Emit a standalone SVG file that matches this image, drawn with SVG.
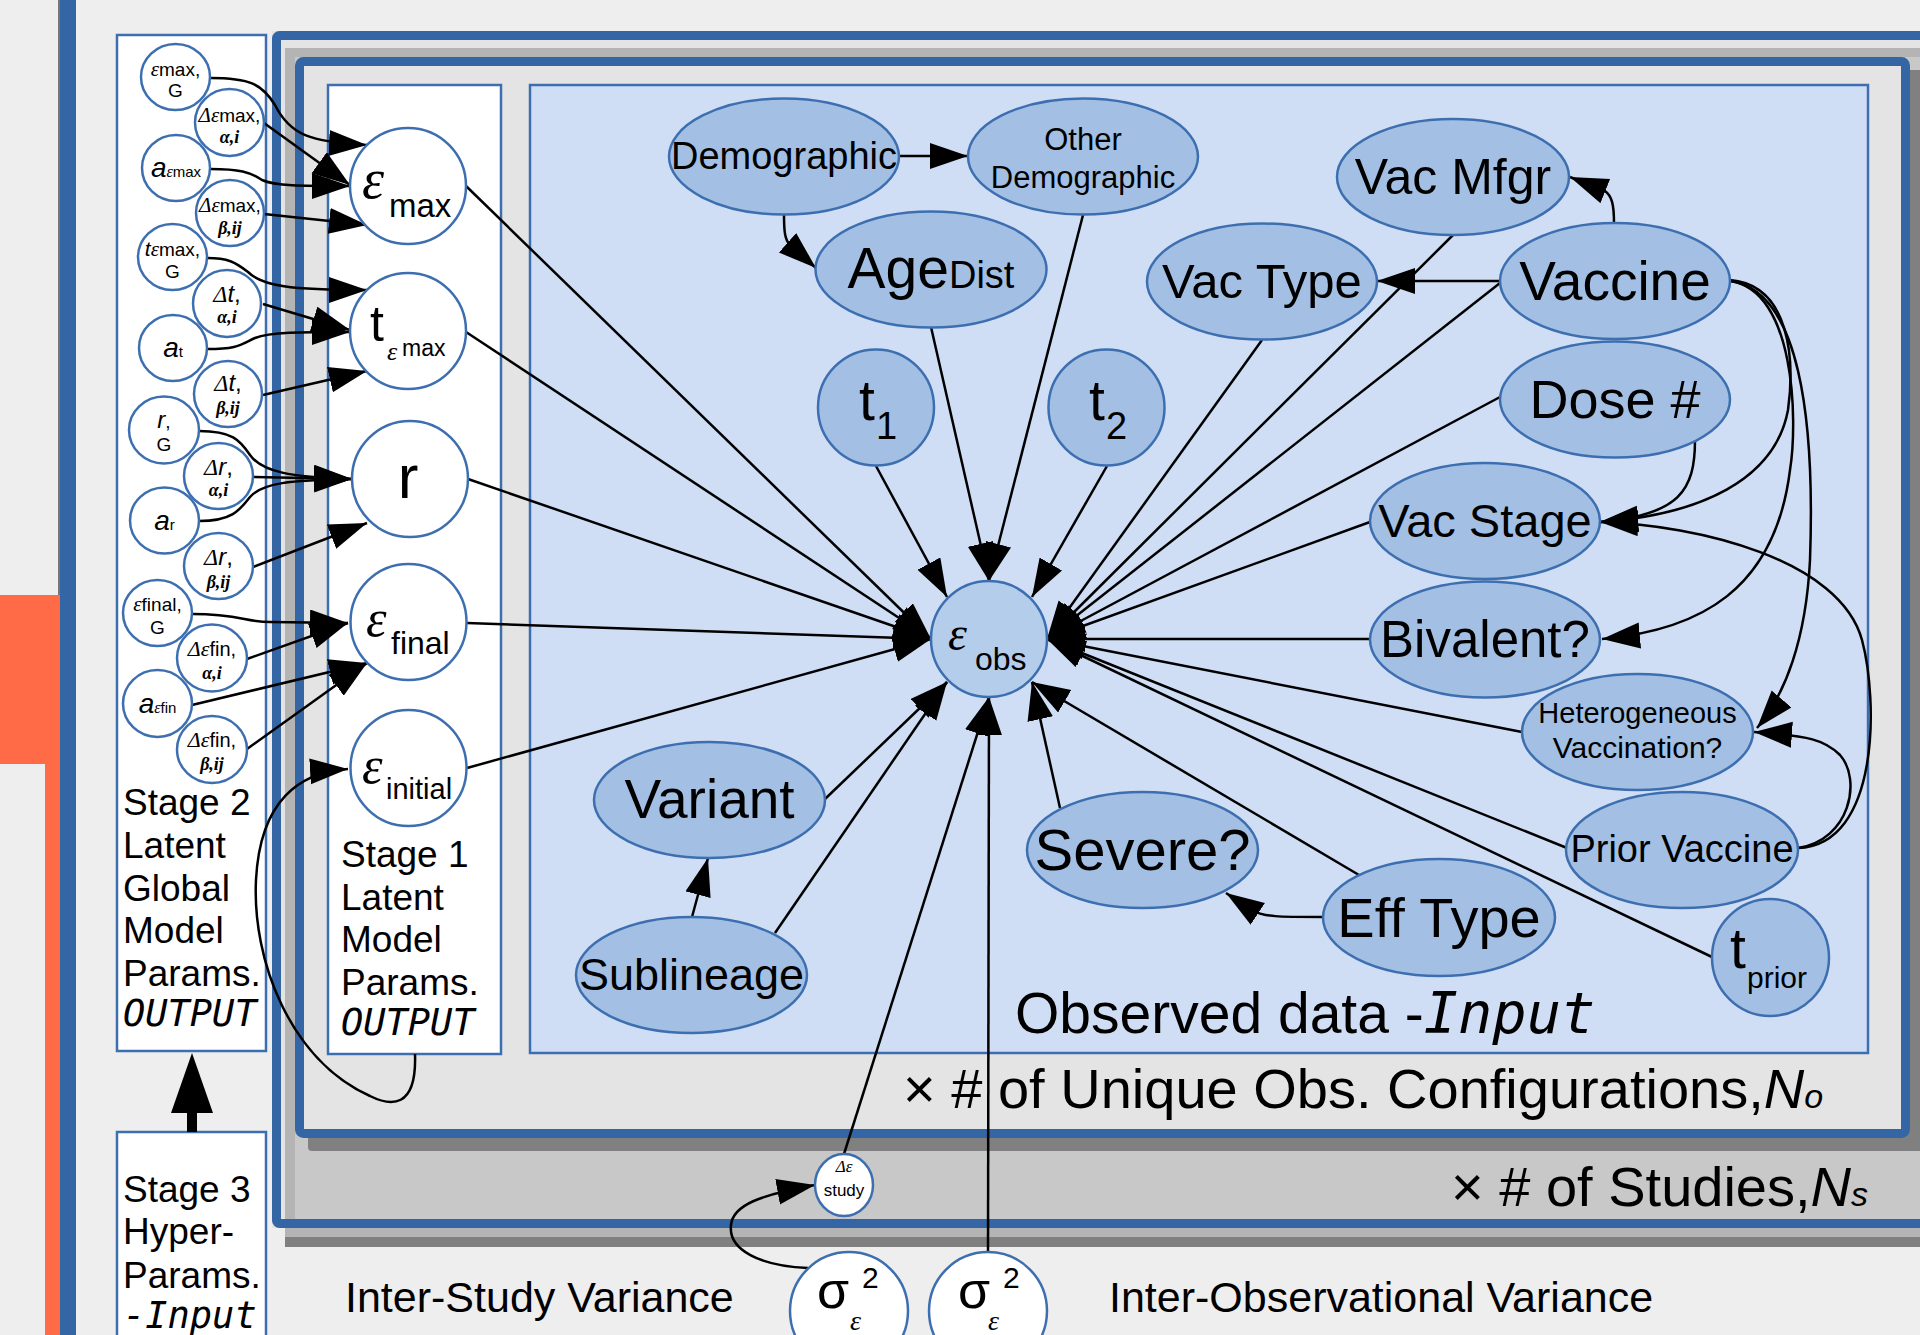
<svg xmlns="http://www.w3.org/2000/svg" width="1920" height="1335" viewBox="0 0 1920 1335">
<style>
  text { font-family: "Liberation Sans", Arial, sans-serif; fill: #000; }
  .g { font-family: "Liberation Serif", "Times New Roman", serif; font-style: italic; }
  .gb { font-family: "Liberation Serif", "Times New Roman", serif; font-style: italic; font-weight: bold; }
  .it { font-style: italic; }
  .mono { font-family: "DejaVu Sans Mono", "Liberation Mono", monospace; font-style: italic; }
  .box { fill: #ffffff; stroke: #3d6fb0; stroke-width: 2.5; }
  .sn { fill: #ffffff; stroke: #3d6fb0; stroke-width: 2.5; }
  .on { fill: #a3c0e4; stroke: #3d6fb0; stroke-width: 2.5; }
  .edge { fill: none; stroke: #000; stroke-width: 2.5; marker-end: url(#ah); }
  .mid { text-anchor: middle; }
</style>
<defs>
  <marker id="ah" markerUnits="userSpaceOnUse" markerWidth="40" markerHeight="28" viewBox="0 0 40 28" refX="38" refY="13" orient="auto">
    <path d="M0,0 L38,13 L0,26 z" fill="#000"/>
  </marker>
</defs>

<!-- page -->
<rect x="0" y="0" width="1920" height="1335" fill="#eeeeee"/>
<rect x="0" y="595" width="60" height="169" fill="#ff6a47"/>
<rect x="45" y="764" width="15" height="571" fill="#ff6a47"/>
<line x1="59" y1="0" x2="59" y2="595" stroke="#777" stroke-width="2"/>
<rect x="60" y="0" width="16" height="1335" fill="#3465a4"/>

<!-- studies plate -->
<g id="plate-studies">
  <rect x="272" y="31" width="1700" height="1197" fill="#e4e4e4"/>
  <rect x="285" y="59" width="1700" height="1188" fill="#808080"/>
  <rect x="285" y="48" width="1700" height="1189" fill="#b4b4b4"/>
  <rect x="295" y="57" width="1700" height="1163" fill="#c8c8c8"/>
  <rect x="276.5" y="35.5" width="1700" height="1188" fill="none" stroke="#3465a4" stroke-width="9" rx="3"/>
  <text x="1451" y="1206" font-size="56">× # of Studies,<tspan class="it">N</tspan><tspan class="it" font-size="34">s</tspan></text>
</g>

<!-- observation configuration plate -->
<g id="plate-configs">
  <rect x="308" y="70" width="1620" height="1081" fill="#808080" rx="4"/>
  <rect x="299.5" y="61.5" width="1606" height="1072" fill="#e4e4e4" stroke="#3465a4" stroke-width="9" rx="4"/>
  <text x="903" y="1108" font-size="56">× # of Unique Obs. Configurations,<tspan class="it">N</tspan><tspan class="it" font-size="34">o</tspan></text>
</g>

<!-- observed data box -->
<g id="observed-data">
  <rect x="530" y="85" width="1338" height="968" fill="#cfdef5" stroke="#3d6fb0" stroke-width="2.5"/>
  <text x="1015" y="1033" font-size="57">Observed data -<tspan class="mono">Input</tspan></text>
</g>

<!-- stage boxes -->
<g id="stage2-box">
  <rect class="box" x="117" y="35" width="149" height="1016"/>
  <text x="123" y="815" font-size="37">Stage 2</text>
  <text x="123" y="858" font-size="37">Latent</text>
  <text x="123" y="901" font-size="37">Global</text>
  <text x="123" y="943" font-size="37">Model</text>
  <text x="123" y="986" font-size="37">Params.</text>
  <text x="123" y="1026" font-size="37" class="mono">OUTPUT</text>
</g>
<g id="stage1-box">
  <rect class="box" x="328" y="85" width="173" height="969"/>
  <text x="341" y="867" font-size="37">Stage 1</text>
  <text x="341" y="910" font-size="37">Latent</text>
  <text x="341" y="952" font-size="37">Model</text>
  <text x="341" y="995" font-size="37">Params.</text>
  <text x="341" y="1035" font-size="37" class="mono">OUTPUT</text>
</g>
<g id="stage3-box">
  <rect class="box" x="117" y="1132" width="149" height="220"/>
  <text x="123" y="1202" font-size="37">Stage 3</text>
  <text x="123" y="1244" font-size="37">Hyper-</text>
  <text x="123" y="1288" font-size="37">Params.</text>
  <text x="123" y="1328" font-size="37" class="mono">-Input</text>
</g>

<text x="345" y="1312" font-size="43">Inter-Study Variance</text>
<text x="1109" y="1312" font-size="43">Inter-Observational Variance</text>

<!-- connectors -->
<g id="connectors">
  <!-- stage 3 to stage 2 -->
  <rect x="187" y="1110" width="10" height="22" fill="#000"/>
  <polygon points="171,1113 192,1053 213,1113" fill="#000"/>

  <!-- stage 2 to stage 1 -->
  <path class="edge" d="M210,78 C250,78 262,84 275,105 C290,135 310,142 367,145"/>
  <path class="edge" d="M264,123 L350,185"/>
  <path class="edge" d="M210,169 C240,169 250,172 262,180 C275,186 300,186 350,186"/>
  <path class="edge" d="M264,214 L367,225"/>
  <path class="edge" d="M207,258 C228,258 235,262 248,272 C262,286 290,290 367,290"/>
  <path class="edge" d="M263,304 L350,330"/>
  <path class="edge" d="M207,349 C238,349 240,345 255,338 C270,332 300,332 350,332"/>
  <path class="edge" d="M263,395 L367,371"/>
  <path class="edge" d="M199,431 C232,431 240,440 250,455 C262,472 290,477 352,479"/>
  <path class="edge" d="M253,477 L352,479"/>
  <path class="edge" d="M199,521 C232,521 240,510 250,497 C262,483 290,480 352,479"/>
  <path class="edge" d="M253,567 L367,523"/>
  <path class="edge" d="M192,614 C240,614 245,622 270,622 L348,623"/>
  <path class="edge" d="M247,659 L348,623"/>
  <path class="edge" d="M192,705 L367,663"/>
  <path class="edge" d="M247,749 L367,663"/>
  <path class="edge" d="M415,1054 C417,1110 390,1106 370,1096 C290,1060 252,960 256,880 C260,800 300,772 348,769"/>

  <!-- stage 1 to observed -->
  <path class="edge" d="M466,186 L931,639"/>
  <path class="edge" d="M466,332 L931,639"/>
  <path class="edge" d="M468,479 L931,639"/>
  <path class="edge" d="M467,623 L931,639"/>
  <path class="edge" d="M467,768 L931,639"/>

  <!-- covariates into the observation -->
  <path class="edge" d="M931,327 L989,581"/>
  <path class="edge" d="M1083,215 L989,581"/>
  <path class="edge" d="M876,466 L947,597"/>
  <path class="edge" d="M1107,466 L1032,597"/>
  <path class="edge" d="M1453,235 L1047,639"/>
  <path class="edge" d="M1262,340 L1047,639"/>
  <path class="edge" d="M1500,283 L1047,639"/>
  <path class="edge" d="M1500,397 L1047,639"/>
  <path class="edge" d="M1370,522 L1047,639"/>
  <path class="edge" d="M1370,639 L1047,639"/>
  <path class="edge" d="M1522,732 L1047,639"/>
  <path class="edge" d="M1567,848 L1047,639"/>
  <path class="edge" d="M1712,957 L1047,639"/>
  <path class="edge" d="M825,799 L947,682"/>
  <path class="edge" d="M775,933 L947,682"/>
  <path class="edge" d="M1060,808 L1032,682"/>
  <path class="edge" d="M1359,875 L1032,682"/>
  <path class="edge" d="M844,1154 L989,697"/>
  <path class="edge" d="M988,1252 L989,697"/>

  <!-- covariate dependencies -->
  <path class="edge" d="M899,156 L968,156"/>
  <path class="edge" d="M784,215 C784,232 785,240 790,245 L816,268"/>
  <path class="edge" d="M692,917 L708,858"/>
  <path class="edge" d="M1323,917 C1280,917 1262,917 1252,910 L1226,893"/>
  <path class="edge" d="M1614,223 C1614,205 1612,196 1605,191 L1570,177"/>
  <path class="edge" d="M1500,281 L1377,281"/>
  <path class="edge" d="M1730,280 C1790,285 1795,360 1788,410 C1775,480 1700,515 1600,522"/>
  <path class="edge" d="M1695,440 C1695,490 1680,515 1600,522"/>
  <path class="edge" d="M1730,281 C1795,290 1798,420 1790,470 C1775,590 1700,630 1602,639"/>
  <path class="edge" d="M1730,281 C1800,290 1815,420 1810,560 C1806,640 1785,695 1757,728"/>
  <path class="edge" d="M1798,848 C1850,840 1862,780 1840,755 C1825,740 1810,736 1754,732"/>
  <path class="edge" d="M1798,848 C1880,845 1878,700 1862,640 C1840,560 1700,525 1600,522"/>
  <path class="edge" d="M808,1268 C760,1266 728,1250 731,1225 C733,1205 760,1195 815,1185"/>
</g>

<!-- stage 2 hyper-level nodes -->
<g id="eps-max-G"><ellipse class="sn" cx="175.5" cy="77" rx="34.5" ry="33"/>
  <text x="175.5" y="76" class="mid" font-size="19"><tspan class="g" font-size="21">ε</tspan>max,</text>
  <text x="175.5" y="97" class="mid" font-size="19">G</text></g>
<g id="d-eps-max-a"><ellipse class="sn" cx="229.5" cy="122.5" rx="34.5" ry="33.5"/>
  <text x="229.5" y="122" class="mid" font-size="19"><tspan class="g" font-size="21">Δε</tspan>max,</text>
  <text x="229.5" y="143" class="mid gb" font-size="18">α,i</text></g>
<g id="a-eps-max"><ellipse class="sn" cx="176" cy="168" rx="34" ry="33"/>
  <text x="176" y="177" class="mid"><tspan class="it" font-size="28">a</tspan><tspan class="g" font-size="16">ε</tspan><tspan font-size="15">max</tspan></text></g>
<g id="d-eps-max-b"><ellipse class="sn" cx="230" cy="213" rx="34" ry="33"/>
  <text x="230" y="212" class="mid" font-size="19"><tspan class="g" font-size="21">Δε</tspan>max,</text>
  <text x="230" y="234" class="mid gb" font-size="18">β,ij</text></g>
<g id="t-eps-max-G"><ellipse class="sn" cx="172.5" cy="257" rx="34.5" ry="33"/>
  <text x="172.5" y="256" class="mid" font-size="19"><tspan class="it" font-size="21">t</tspan><tspan class="g" font-size="21">ε</tspan>max,</text>
  <text x="172.5" y="278" class="mid" font-size="19">G</text></g>
<g id="d-t-a"><ellipse class="sn" cx="227" cy="303.5" rx="34" ry="33.5"/>
  <text x="227" y="302" class="mid" font-size="24"><tspan class="g">Δ</tspan><tspan class="it">t</tspan>,</text>
  <text x="227" y="323" class="mid gb" font-size="18">α,i</text></g>
<g id="a-t"><ellipse class="sn" cx="173" cy="348" rx="34" ry="33"/>
  <text x="173" y="357" class="mid"><tspan class="it" font-size="28">a</tspan><tspan font-size="15">t</tspan></text></g>
<g id="d-t-b"><ellipse class="sn" cx="228" cy="394" rx="34" ry="33"/>
  <text x="228" y="391" class="mid" font-size="24"><tspan class="g">Δ</tspan><tspan class="it">t</tspan>,</text>
  <text x="228" y="414" class="mid gb" font-size="18">β,ij</text></g>
<g id="r-G"><ellipse class="sn" cx="164" cy="430" rx="35" ry="33.5"/>
  <text x="164" y="428" class="mid" font-size="24"><tspan class="it">r</tspan><tspan font-size="19">,</tspan></text>
  <text x="164" y="451" class="mid" font-size="19">G</text></g>
<g id="d-r-a"><ellipse class="sn" cx="218.5" cy="476" rx="34.5" ry="33"/>
  <text x="218.5" y="475" class="mid" font-size="24"><tspan class="g">Δ</tspan><tspan class="it">r</tspan>,</text>
  <text x="218.5" y="496" class="mid gb" font-size="18">α,i</text></g>
<g id="a-r"><ellipse class="sn" cx="164.5" cy="520.5" rx="34.5" ry="33"/>
  <text x="164.5" y="530" class="mid"><tspan class="it" font-size="28">a</tspan><tspan font-size="15">r</tspan></text></g>
<g id="d-r-b"><ellipse class="sn" cx="218.5" cy="566" rx="34.5" ry="33"/>
  <text x="218.5" y="565" class="mid" font-size="24"><tspan class="g">Δ</tspan><tspan class="it">r</tspan>,</text>
  <text x="218.5" y="588" class="mid gb" font-size="18">β,ij</text></g>
<g id="eps-final-G"><ellipse class="sn" cx="157.5" cy="613" rx="34.5" ry="33"/>
  <text x="157.5" y="611" class="mid" font-size="19"><tspan class="g" font-size="21">ε</tspan>final,</text>
  <text x="157.5" y="634" class="mid" font-size="19">G</text></g>
<g id="d-eps-fin-a"><ellipse class="sn" cx="212" cy="658" rx="35" ry="33.5"/>
  <text x="212" y="656" class="mid" font-size="20"><tspan class="g" font-size="22">Δε</tspan>fin,</text>
  <text x="212" y="679" class="mid gb" font-size="18">α,i</text></g>
<g id="a-eps-fin"><ellipse class="sn" cx="157.5" cy="703.5" rx="34.5" ry="33.5"/>
  <text x="157.5" y="713" class="mid"><tspan class="it" font-size="28">a</tspan><tspan class="g" font-size="16">ε</tspan><tspan font-size="15">fin</tspan></text></g>
<g id="d-eps-fin-b"><ellipse class="sn" cx="212" cy="749.5" rx="35" ry="33.5"/>
  <text x="212" y="747" class="mid" font-size="20"><tspan class="g" font-size="22">Δε</tspan>fin,</text>
  <text x="212" y="770" class="mid gb" font-size="18">β,ij</text></g>

<!-- stage 1 latent nodes -->
<g id="eps-max"><circle class="sn" cx="408" cy="186" r="58"/>
  <text x="362" y="198" class="g" font-size="56">ε</text><text x="389" y="217" font-size="33">max</text></g>
<g id="t-eps-max"><circle class="sn" cx="408" cy="331" r="58"/>
  <text x="370" y="341" font-size="50">t</text><text x="387" y="360" class="g" font-size="26">ε</text><text x="402" y="356" font-size="23">max</text></g>
<g id="r"><circle class="sn" cx="410" cy="479" r="58"/>
  <text x="408" y="498" class="mid" font-size="62">r</text></g>
<g id="eps-final"><circle class="sn" cx="408.5" cy="622" r="58"/>
  <text x="366" y="636" class="g" font-size="52">ε</text><text x="391" y="654" font-size="32">final</text></g>
<g id="eps-initial"><circle class="sn" cx="408.5" cy="768" r="58"/>
  <text x="362" y="783" class="g" font-size="52">ε</text><text x="386" y="799" font-size="29">initial</text></g>

<!-- observed data nodes -->
<g id="demographic"><ellipse class="on" cx="784" cy="156.5" rx="115" ry="58"/>
  <text x="784" y="169" class="mid" font-size="38">Demographic</text></g>
<g id="other-demographic"><ellipse class="on" cx="1083" cy="156.5" rx="115" ry="58"/>
  <text x="1083" y="150" class="mid" font-size="31">Other</text>
  <text x="1083" y="188" class="mid" font-size="31">Demographic</text></g>
<g id="age-dist"><ellipse class="on" cx="931" cy="269.5" rx="115.5" ry="58"/>
  <text x="931" y="288" class="mid"><tspan font-size="57">Age</tspan><tspan font-size="38">Dist</tspan></text></g>
<g id="t1"><circle class="on" cx="876" cy="407.5" r="58"/>
  <text x="859" y="420" font-size="57">t</text><text x="876" y="439" font-size="38">1</text></g>
<g id="t2"><circle class="on" cx="1106.5" cy="407.5" r="58"/>
  <text x="1089" y="420" font-size="57">t</text><text x="1106" y="439" font-size="38">2</text></g>
<g id="vac-mfgr"><ellipse class="on" cx="1453" cy="177" rx="116" ry="58"/>
  <text x="1453" y="194" class="mid" font-size="50">Vac Mfgr</text></g>
<g id="vac-type"><ellipse class="on" cx="1262" cy="281.5" rx="115" ry="58"/>
  <text x="1262" y="298" class="mid" font-size="49">Vac Type</text></g>
<g id="vaccine"><ellipse class="on" cx="1615" cy="281" rx="115" ry="58"/>
  <text x="1615" y="300" class="mid" font-size="55">Vaccine</text></g>
<g id="dose"><ellipse class="on" cx="1615" cy="399.5" rx="115" ry="58"/>
  <text x="1615" y="418" class="mid" font-size="54">Dose #</text></g>
<g id="vac-stage"><ellipse class="on" cx="1485" cy="521" rx="115" ry="58"/>
  <text x="1485" y="537" class="mid" font-size="47">Vac Stage</text></g>
<g id="bivalent"><ellipse class="on" cx="1485" cy="639.5" rx="115" ry="58"/>
  <text x="1485" y="657" class="mid" font-size="51">Bivalent?</text></g>
<g id="heterogeneous"><ellipse class="on" cx="1637.5" cy="732" rx="115.5" ry="58"/>
  <text x="1637.5" y="723" class="mid" font-size="29">Heterogeneous</text>
  <text x="1637.5" y="758" class="mid" font-size="30">Vaccination?</text></g>
<g id="prior-vaccine"><ellipse class="on" cx="1682" cy="850" rx="116" ry="58"/>
  <text x="1682" y="862" class="mid" font-size="38">Prior Vaccine</text></g>
<g id="eff-type"><ellipse class="on" cx="1439" cy="917.5" rx="116" ry="58.5"/>
  <text x="1439" y="937" class="mid" font-size="56">Eff Type</text></g>
<g id="t-prior"><circle class="on" cx="1770.5" cy="957.5" r="58.5"/>
  <text x="1730" y="968" font-size="57">t</text><text x="1747" y="988" font-size="30">prior</text></g>
<g id="severe"><ellipse class="on" cx="1142.5" cy="850" rx="115.5" ry="58"/>
  <text x="1142.5" y="870" class="mid" font-size="58">Severe?</text></g>
<g id="variant"><ellipse class="on" cx="709.5" cy="800" rx="115.5" ry="58"/>
  <text x="709.5" y="818" class="mid" font-size="55">Variant</text></g>
<g id="sublineage"><ellipse class="on" cx="691.5" cy="975" rx="115.5" ry="58"/>
  <text x="691.5" y="990" class="mid" font-size="45">Sublineage</text></g>
<g id="eps-obs"><circle cx="989" cy="639" r="58" fill="#b4cdea" stroke="#3d6fb0" stroke-width="2.5"/>
  <text x="948" y="650" class="g" font-size="48">ε</text><text x="975" y="670" font-size="32">obs</text></g>

<!-- variance nodes -->
<g id="d-eps-study"><ellipse class="sn" cx="844" cy="1185" rx="29" ry="31"/>
  <text x="844" y="1172" class="mid g" font-size="17">Δε</text>
  <text x="844" y="1196" class="mid" font-size="17">study</text></g>
<g id="sigma-study"><circle class="sn" cx="849" cy="1311" r="59"/>
  <text x="817" y="1308" font-size="52">σ</text><text x="862" y="1288" font-size="30">2</text><text x="850" y="1330" class="g" font-size="28">ε</text></g>
<g id="sigma-obs"><circle class="sn" cx="988" cy="1311" r="59"/>
  <text x="958" y="1308" font-size="52">σ</text><text x="1003" y="1288" font-size="30">2</text><text x="988" y="1330" class="g" font-size="28">ε</text></g>
</svg>
